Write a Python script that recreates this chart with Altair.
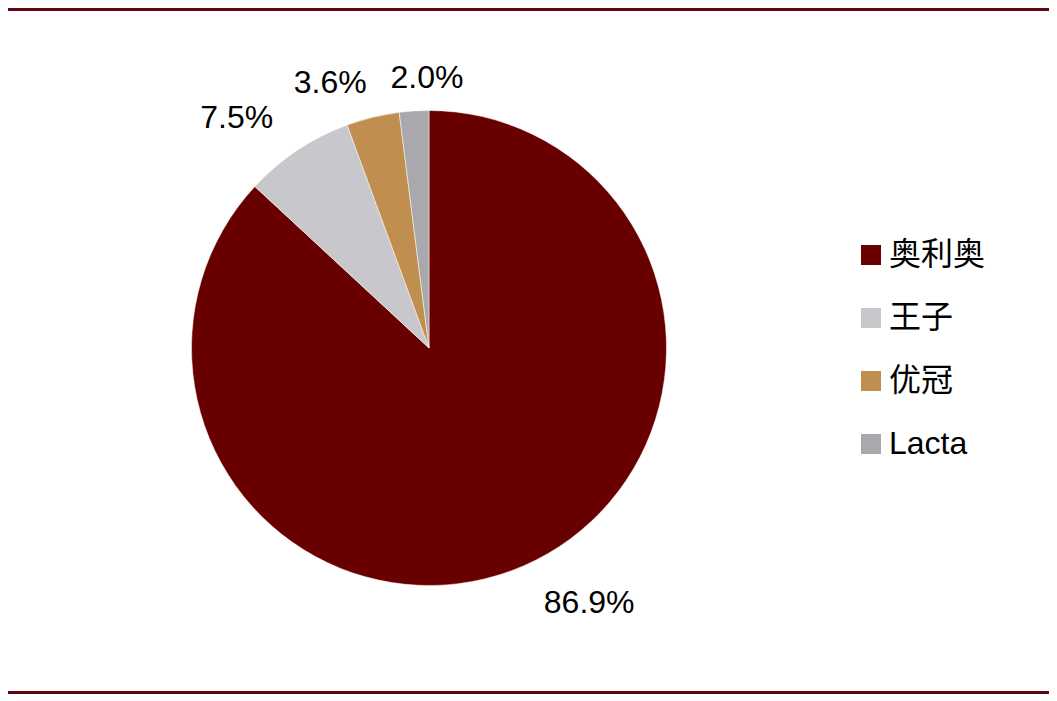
import altair as alt
import pandas as pd
import math

brands = ["奥利奥", "王子", "优冠", "Lacta"]
shares = [86.9, 7.5, 3.6, 2.0]
colors = ["#690000", "#C8C8CC", "#C08F50", "#A9A9AD"]
label_side = ["right", "left", "left2", "top"]

df = pd.DataFrame({"brand": brands, "value": shares, "order": list(range(len(brands))), "side": label_side})

PADL = 10
W, H = 1041 - PADL, 687
CX, CY = 421 - PADL, 340
R = 237.5
LR = 272
FONT = "Liberation Sans, Arial, Noto Sans CJK SC"

theta_scale = alt.Scale(domain=[0, 100], range=[0, 2 * math.pi])

base = alt.Chart(df).transform_window(
    cum="sum(value)", sort=[alt.SortField("order")], frame=[None, 0]
).transform_calculate(
    start="datum.cum - datum.value",
    mid="datum.cum - datum.value / 2",
    label="format(datum.value, '.1f') + '%'",
)

pie = base.mark_arc(radius=R, stroke="white", strokeWidth=0.5).encode(
    theta=alt.Theta("start:Q", scale=theta_scale),
    theta2="cum:Q",
    x=alt.value(CX),
    y=alt.value(CY),
    color=alt.Color(
        "brand:N",
        scale=alt.Scale(domain=brands, range=colors),
        legend=alt.Legend(
            title=None,
            orient="none",
            legendX=847 - PADL,
            legendY=231,
            symbolType="square",
            symbolSize=400,
            symbolStrokeWidth=0,
            labelFont=FONT,
            labelFontSize=32,
            labelColor="#000000",
            labelOffset=2,
            rowPadding=31,
            padding=0,
        ),
    ),
    order=alt.Order("order:Q"),
)

def labels(side, align, dx=0, dy=0):
    return base.transform_filter(alt.datum.side == side).mark_text(
        radius=LR, align=align, baseline="middle", font=FONT, fontSize=32,
        color="#000000", dx=dx, dy=dy
    ).encode(
        theta=alt.Theta("mid:Q", scale=theta_scale),
        x=alt.value(CX),
        y=alt.value(CY),
        text="label:N",
    )

lines_df = pd.DataFrame({"k": [0]})
top_line = alt.Chart(lines_df).mark_rule(color="#5C0A10", strokeWidth=3).encode(
    x=alt.value(-PADL), x2=alt.value(W), y=alt.value(1.5)
)
bottom_line = alt.Chart(lines_df).mark_rule(color="#5C0A10", strokeWidth=3).encode(
    x=alt.value(-PADL), x2=alt.value(W), y=alt.value(684.5)
)

chart = alt.layer(
    pie,
    labels("right", "left", 6, 6),
    labels("left", "right", -5, -4),
    labels("left2", "right", 2, -1),
    labels("top", "center", 15, 1),
    top_line,
    bottom_line,
).properties(
    width=W, height=H, autosize=alt.AutoSizeParams(type="none"),
    padding={"left": PADL, "top": 0, "right": 0, "bottom": 0}
).configure_view(strokeWidth=0, stroke="transparent")

chart.save("out.html", embed_options={"renderer": "svg", "actions": False})
